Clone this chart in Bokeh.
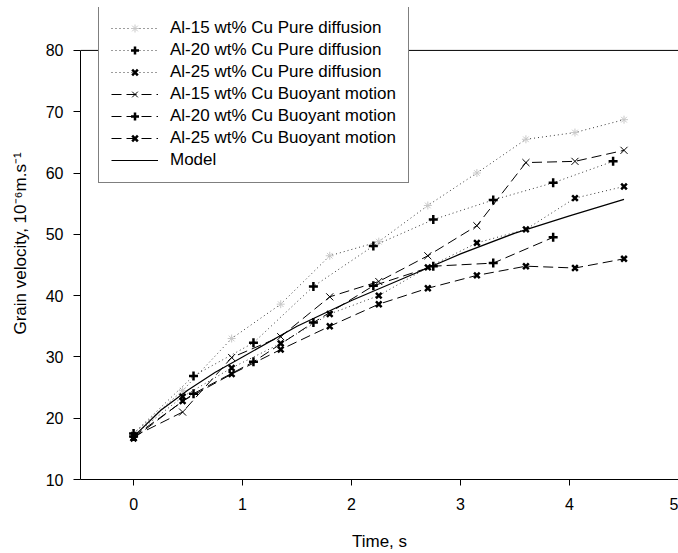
from bokeh.plotting import figure
from bokeh.models import Legend, LegendItem, Span, FixedTicker, Range1d
from bokeh.embed import file_html
from bokeh.resources import INLINE

# ---- data ----
t_a = [0, 0.45, 0.9, 1.35, 1.8, 2.25, 2.7, 3.15, 3.6, 4.05, 4.5]
t_b = [0, 0.55, 1.1, 1.65, 2.2, 2.75, 3.3, 3.85, 4.4]
t_b_buoy = [0, 0.55, 1.1, 1.65, 2.2, 2.75, 3.3, 3.85]

al15_pure = [17.5, 24.5, 33.0, 38.6, 46.5, 48.8, 54.7, 60.0, 65.5, 66.6, 68.7]
al20_pure = [17.5, 26.9, 32.3, 41.5, 48.1, 52.4, 55.6, 58.4, 61.9]
al25_pure = [17.2, 23.5, 28.2, 32.2, 37.0, 40.0, 44.6, 48.6, 50.8, 55.9, 57.8]
al15_buoy = [17.0, 21.0, 29.9, 33.3, 39.8, 42.3, 46.5, 51.4, 61.7, 61.9, 63.7]
al20_buoy = [17.0, 24.0, 29.2, 35.6, 41.6, 44.8, 45.3, 49.5]
al25_buoy = [16.7, 22.8, 27.2, 31.2, 35.0, 38.6, 41.2, 43.3, 44.8, 44.5, 46.0]

t_model = [0, 0.25, 0.5, 0.75, 1.0, 1.5, 2.0, 2.5, 3.0, 3.5, 4.0, 4.5]
v_model = [17.0, 21.3, 24.6, 27.5, 30.0, 35.0, 39.2, 43.0, 46.8, 50.2, 53.0, 55.7]

labels = ["Al-15 wt% Cu Pure diffusion", "Al-20 wt% Cu Pure diffusion",
          "Al-25 wt% Cu Pure diffusion", "Al-15 wt% Cu Buoyant motion",
          "Al-20 wt% Cu Buoyant motion", "Al-25 wt% Cu Buoyant motion", "Model"]
x_ticks = [0, 1, 2, 3, 4, 5]
y_ticks = [10, 20, 30, 40, 50, 60, 70, 80]

FONT = "Liberation Sans"

p = figure(width=678, height=553, output_backend="svg", toolbar_location=None,
           x_range=Range1d(-0.487, 5.0), y_range=Range1d(10, 87.0),
           min_border_left=80, min_border_right=0, min_border_top=7, min_border_bottom=72)
p.grid.visible = False
p.outline_line_color = None
p.background_fill_color = "white"
p.border_fill_color = "white"

for ax in (p.xaxis[0], p.yaxis[0]):
    ax.axis_line_color = "black"
    ax.major_tick_line_color = "black"
    ax.minor_tick_line_color = None
    ax.major_tick_in = 0
    ax.major_label_text_font = FONT
    ax.major_label_text_font_size = "16px"
    ax.major_label_text_color = "black"
    ax.axis_label_text_font = FONT
    ax.axis_label_text_font_size = "17px"
    ax.axis_label_text_font_style = "normal"
    ax.axis_label_text_color = "black"

p.xaxis.ticker = FixedTicker(ticks=x_ticks)
p.yaxis.ticker = FixedTicker(ticks=y_ticks)
p.yaxis.bounds = (10, 80)
p.xaxis.major_tick_out = 6
p.yaxis.major_tick_out = 7
p.xaxis.major_label_standoff = 12
p.yaxis.major_label_standoff = 10
p.xaxis.axis_label = "Time, s"
p.yaxis.axis_label = "Grain velocity, 10\u207b\u2076m.s\u207b\u00b9"
p.xaxis.axis_label_standoff = 19
p.yaxis.axis_label_standoff = 13

p.add_layout(Span(location=80, dimension="width", line_color="black", line_width=1))

DOT = "1 3"
DASH = "10 5"
dot_col = "#3a3a3a"

items = []

r1 = p.line(t_a, al15_pure, line_color=dot_col, line_dash=DOT, line_width=1)
m1 = p.scatter(t_a, al15_pure, marker="asterisk", size=8, line_color="#c8c8c8", line_width=1)
items.append(LegendItem(label=labels[0], renderers=[r1, m1]))

r2 = p.line(t_b, al20_pure, line_color=dot_col, line_dash=DOT, line_width=1)
m2 = p.scatter(t_b, al20_pure, marker="cross", size=9, line_color="black", line_width=2.5)
items.append(LegendItem(label=labels[1], renderers=[r2, m2]))

r3 = p.line(t_a, al25_pure, line_color=dot_col, line_dash=DOT, line_width=1)
m3 = p.scatter(t_a, al25_pure, marker="x", size=8, line_color="black", line_width=2.5)
items.append(LegendItem(label=labels[2], renderers=[r3, m3]))

r4 = p.line(t_a, al15_buoy, line_color="black", line_dash=DASH, line_width=1)
m4 = p.scatter(t_a, al15_buoy, marker="x", size=10, line_color="black", line_width=1)
items.append(LegendItem(label=labels[3], renderers=[r4, m4]))

r5 = p.line(t_b_buoy, al20_buoy, line_color="black", line_dash=DASH, line_width=1)
m5 = p.scatter(t_b_buoy, al20_buoy, marker="cross", size=9, line_color="black", line_width=2.5)
items.append(LegendItem(label=labels[4], renderers=[r5, m5]))

r6 = p.line(t_a, al25_buoy, line_color="black", line_dash=DASH, line_width=1)
m6 = p.scatter(t_a, al25_buoy, marker="x", size=8, line_color="black", line_width=2.5)
items.append(LegendItem(label=labels[5], renderers=[r6, m6]))

r7 = p.line(t_model, v_model, line_color="black", line_width=1.2)
items.append(LegendItem(label=labels[6], renderers=[r7]))

legend = Legend(items=items, location=(18, 296), orientation="vertical",
                padding=12, spacing=2, margin=0,
                glyph_width=47, glyph_height=20, label_height=20, label_standoff=12,
                label_text_font=FONT, label_text_font_size="17px", label_text_color="black",
                border_line_color="black", border_line_width=1,
                background_fill_color="white", background_fill_alpha=1.0)
p.add_layout(legend, "center")

open("out.html", "w").write(file_html(p, INLINE))
